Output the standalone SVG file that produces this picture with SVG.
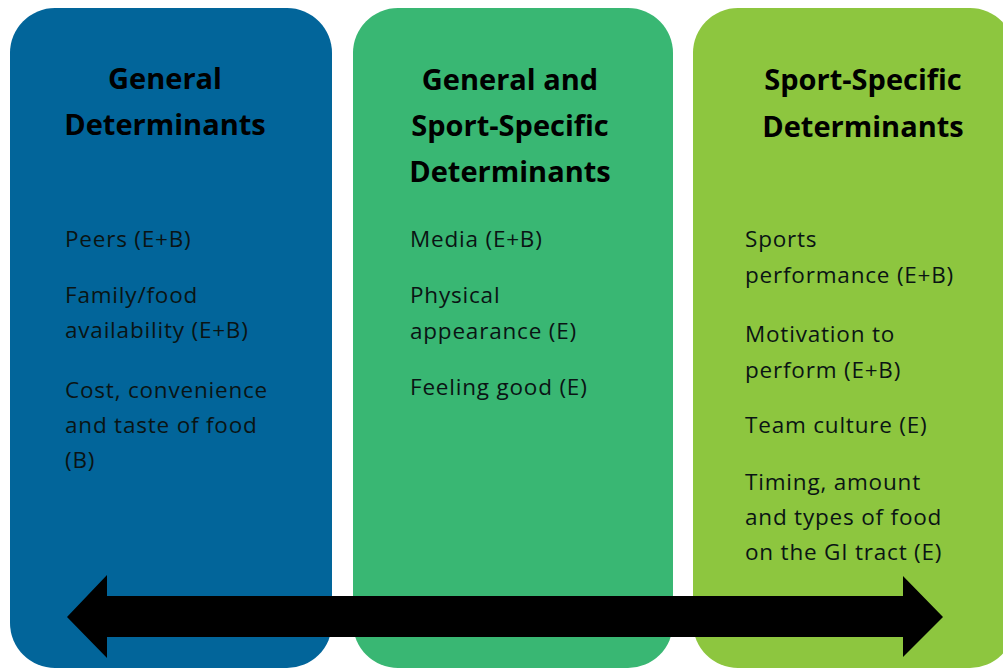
<svg xmlns="http://www.w3.org/2000/svg" width="1003" height="670" viewBox="0 0 1003 670">
<style>
.title{font-family:"Open Sans","Liberation Sans",sans-serif;font-weight:bold;font-size:29px;fill:#000;text-anchor:middle}
.body{font-family:"Open Sans","Liberation Sans",sans-serif;font-size:22.5px;letter-spacing:0.8px;fill:#0a1414}
</style>
<rect width="1003" height="670" fill="#ffffff"/>
<g id="node-general">
<rect x="10" y="8" width="322" height="660" rx="45" ry="45" fill="#02659A"/>
<text class="title" x="165" y="89">General</text>
<text class="title" x="165" y="135">Determinants</text>
<text class="body" x="65" y="247">Peers (E+B)</text>
<text class="body" x="65" y="303">Family/food</text>
<text class="body" x="65" y="338">availability (E+B)</text>
<text class="body" x="65" y="398">Cost, convenience</text>
<text class="body" x="65" y="433">and taste of food</text>
<text class="body" x="65" y="468">(B)</text>
</g>
<g id="node-both">
<rect x="353" y="8" width="320" height="660" rx="45" ry="45" fill="#39B773"/>
<text class="title" x="510" y="90">General and</text>
<text class="title" x="510" y="136">Sport-Specific</text>
<text class="title" x="510" y="182">Determinants</text>
<text class="body" x="410" y="247">Media (E+B)</text>
<text class="body" x="410" y="303">Physical</text>
<text class="body" x="410" y="339">appearance (E)</text>
<text class="body" x="410" y="395">Feeling good (E)</text>
</g>
<g id="node-sport">
<rect x="693" y="8" width="322" height="660" rx="45" ry="45" fill="#8DC63F"/>
<text class="title" x="863" y="90">Sport-Specific</text>
<text class="title" x="863" y="137">Determinants</text>
<text class="body" x="745" y="247">Sports</text>
<text class="body" x="745" y="283">performance (E+B)</text>
<text class="body" x="745" y="342">Motivation to</text>
<text class="body" x="745" y="378">perform (E+B)</text>
<text class="body" x="745" y="433">Team culture (E)</text>
<text class="body" x="745" y="490">Timing, amount</text>
<text class="body" x="745" y="525">and types of food</text>
<text class="body" x="745" y="560">on the GI tract (E)</text>
</g>
<g id="connectors">
<polygon points="67,617 107,575 107,596 903,596 903,576 943,617 903,657 903,637 107,637 107,658" fill="#000"/>
</g>
</svg>
